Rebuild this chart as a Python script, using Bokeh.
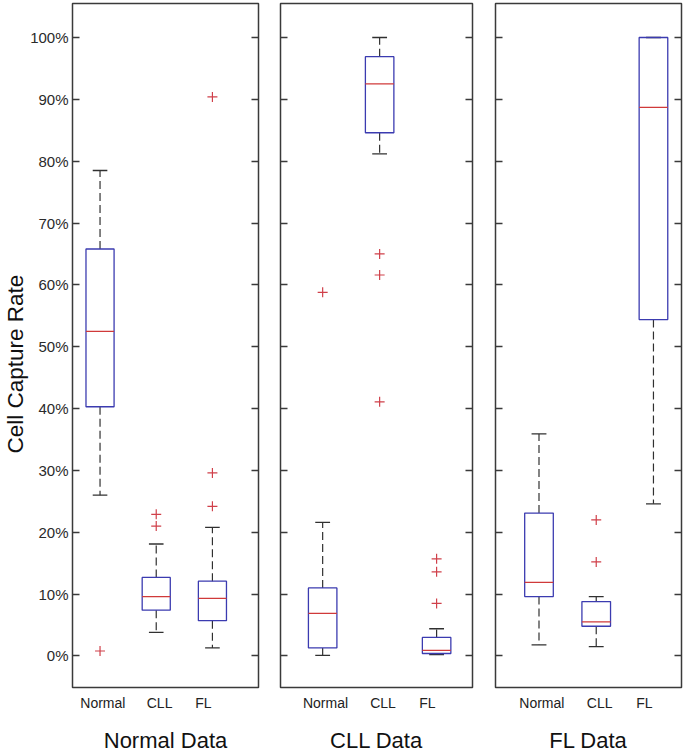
from bokeh.plotting import figure
from bokeh.models import Range1d, LinearAxis, FixedTicker, ColumnDataSource, Title
from bokeh.layouts import row
from bokeh.embed import file_html
from bokeh.resources import INLINE

# ---------------- data ----------------
categories = ["Normal", "CLL", "FL"]
panel_titles = ["Normal Data", "CLL Data", "FL Data"]
y_ticks = [0, 10, 20, 30, 40, 50, 60, 70, 80, 90, 100]
y_tick_labels = ["0%", "10%", "20%", "30%", "40%", "50%", "60%", "70%", "80%", "90%", "100%"]

# Normal Data panel (values in %)
nd_lo = [26.0, 3.8, 1.3]
nd_q1 = [40.3, 7.4, 5.7]
nd_median = [52.5, 9.6, 9.3]
nd_q3 = [65.8, 12.7, 12.1]
nd_hi = [78.5, 18.1, 20.8]
nd_out_cat = ["Normal", "CLL", "CLL", "FL", "FL", "FL"]
nd_out_val = [0.8, 22.9, 21.0, 90.4, 29.6, 24.2]

# CLL Data panel
cd_lo = [0.1, 81.2, 0.2]
cd_q1 = [1.3, 84.6, 0.4]
cd_median = [6.9, 92.5, 0.9]
cd_q3 = [11.0, 96.9, 3.0]
cd_hi = [21.6, 100.0, 4.4]
cd_out_cat = ["Normal", "CLL", "CLL", "CLL", "FL", "FL", "FL"]
cd_out_val = [58.8, 65.0, 61.6, 41.1, 15.7, 13.6, 8.5]

# FL Data panel
fd_lo = [1.8, 1.5, 24.6]
fd_q1 = [9.6, 4.8, 54.4]
fd_median = [11.9, 5.5, 88.7]
fd_q3 = [23.1, 8.8, 100.0]
fd_hi = [35.9, 9.6, 100.0]
fd_out_cat = ["CLL", "CLL"]
fd_out_val = [22.0, 15.2]

# ---------------- style ----------------
FONT = "Liberation Sans"
BOX_BLUE = "#3b3bb0"
MED_RED = "#d03a3a"
OUT_RED = "#d0404a"
WHISK = "#303030"
FRAME = "#3a3a3a"
BOX_W = 0.5
CAP_W = 0.26
LABEL_SHIFT = [0.05, 0.06, -0.16]

panels = [
    dict(lo=nd_lo, q1=nd_q1, med=nd_median, q3=nd_q3, hi=nd_hi, oc=nd_out_cat, ov=nd_out_val,
         xr=(0.51, 3.82), fw=189, bl=69, br=11),
    dict(lo=cd_lo, q1=cd_q1, med=cd_median, q3=cd_q3, hi=cd_hi, oc=cd_out_cat, ov=cd_out_val,
         xr=(0.26, 3.63), fw=192, bl=11, br=11),
    dict(lo=fd_lo, q1=fd_q1, med=fd_median, q3=fd_q3, hi=fd_hi, oc=fd_out_cat, ov=fd_out_val,
         xr=(0.24, 3.49), fw=186, bl=12, br=4),
]

TOP = 3
FRAME_H = 684
BOTTOM = 68
figs = []
for i, pd_ in enumerate(panels):
    w = pd_["bl"] + pd_["fw"] + pd_["br"]
    p = figure(width=w, height=TOP + FRAME_H + BOTTOM, output_backend="svg", toolbar_location=None,
               x_range=Range1d(*pd_["xr"]), y_range=Range1d(-5.1, 105.5),
               min_border_left=pd_["bl"], min_border_right=pd_["br"],
               min_border_top=TOP, min_border_bottom=BOTTOM, y_axis_location=None)
    p.xgrid.visible = False
    p.ygrid.visible = False
    p.outline_line_color = FRAME
    p.outline_line_width = 1.5
    p.background_fill_color = "white"
    p.border_fill_color = "white"

    xs = [j + 1 for j in range(len(categories))]
    src = ColumnDataSource(dict(
        x=xs, lo=pd_["lo"], q1=pd_["q1"], med=pd_["med"], q3=pd_["q3"], hi=pd_["hi"],
        bl=[x - BOX_W / 2 for x in xs], br=[x + BOX_W / 2 for x in xs],
        cl=[x - CAP_W / 2 for x in xs], cr=[x + CAP_W / 2 for x in xs],
    ))
    # whiskers (dashed)
    p.segment(x0="x", y0="q3", x1="x", y1="hi", source=src, line_color=WHISK,
              line_width=1.2, line_dash="8 4")
    p.segment(x0="x", y0="q1", x1="x", y1="lo", source=src, line_color=WHISK,
              line_width=1.2, line_dash="8 4")
    # caps
    p.segment(x0="cl", y0="hi", x1="cr", y1="hi", source=src, line_color=WHISK, line_width=1.3)
    p.segment(x0="cl", y0="lo", x1="cr", y1="lo", source=src, line_color=WHISK, line_width=1.3)
    # boxes
    p.quad(left="bl", right="br", bottom="q1", top="q3", source=src, fill_color=None,
           line_color=BOX_BLUE, line_width=1.3)
    # medians
    p.segment(x0="bl", y0="med", x1="br", y1="med", source=src, line_color=MED_RED, line_width=1.3)
    # outliers
    ox = [categories.index(c) + 1 for c in pd_["oc"]]
    p.scatter(x=ox, y=pd_["ov"], marker="cross", size=10, line_color=OUT_RED, line_width=1.2)

    # x axis: category labels + panel title as axis label
    xa = p.xaxis[0]
    xa.ticker = FixedTicker(ticks=[x + s for x, s in zip(xs, LABEL_SHIFT)])
    xa.major_label_overrides = {x + s: c for x, s, c in zip(xs, LABEL_SHIFT, categories)}
    xa.major_tick_line_color = None
    xa.major_tick_out = 0
    xa.major_tick_in = 0
    xa.minor_tick_line_color = None
    xa.minor_tick_out = 0
    xa.axis_line_color = None
    xa.major_label_text_font = FONT
    xa.major_label_text_font_size = "14px"
    xa.major_label_text_color = "#222222"
    xa.major_label_standoff = 7
    xa.axis_label = panel_titles[i]
    xa.axis_label_text_font = FONT
    xa.axis_label_text_font_size = "22px"
    xa.axis_label_text_font_style = "normal"
    xa.axis_label_text_color = "#111111"
    xa.axis_label_standoff = 14

    # y axes, left and right, ticks inward
    for side in ["left", "right"]:
        ya = LinearAxis(ticker=FixedTicker(ticks=y_ticks),
                        major_label_overrides={t_: l for t_, l in zip(y_ticks, y_tick_labels)})
        ya.axis_line_color = None
        ya.major_tick_in = 7
        ya.major_tick_out = 0
        ya.minor_tick_out = 0
        ya.major_tick_line_color = FRAME
        ya.major_tick_line_width = 1.4
        ya.minor_tick_line_color = None
        if i == 0 and side == "left":
            ya.major_label_text_font = FONT
            ya.major_label_text_font_size = "15px"
            ya.major_label_text_color = "#2a2a2a"
            ya.major_label_standoff = 4
        else:
            ya.major_label_text_color = None
            ya.major_label_text_font_size = "1px"
            ya.major_label_standoff = 0
        p.add_layout(ya, side)

    if i == 0:
        yt = Title(text="Cell Capture Rate", align="left", offset=234, standoff=0,
                   text_font=FONT, text_font_size="22.5px", text_font_style="normal",
                   text_color="#111111")
        p.add_layout(yt, "left")
    figs.append(p)

layout = row(*figs)
open("out.html", "w").write(file_html(layout, INLINE))
